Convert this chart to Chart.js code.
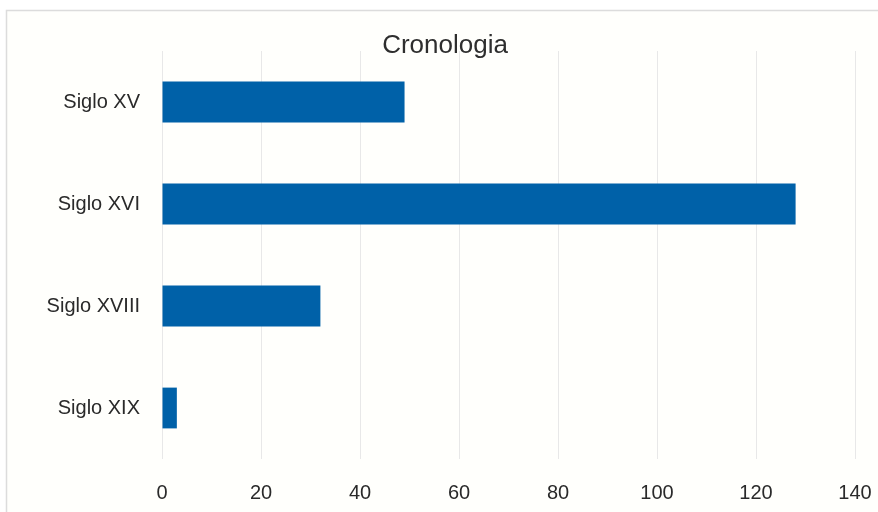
<!DOCTYPE html>
<html>
<head>
<meta charset="utf-8">
<script src="https://cdn.jsdelivr.net/npm/chart.js@4/dist/chart.umd.min.js"></script>
<style>
  html, body { margin: 0; padding: 0; background: #ffffff; }
  #wrap { width: 878px; height: 512px; position: relative; }
</style>
</head>
<body>
<div id="wrap"><canvas id="c" width="878" height="512"></canvas></div>
<script>
const categories = ["Siglo XV", "Siglo XVI", "Siglo XVIII", "Siglo XIX"];
const values = [49, 128, 32, 3];
const chartTitle = "Cronologia";
const xMax = 140;
const xStep = 20;

const frame = {
  id: 'frame',
  beforeDraw(chart) {
    const ctx = chart.ctx;
    ctx.save();
    ctx.fillStyle = '#fffffc';
    ctx.fillRect(6, 10, chart.width - 6, chart.height - 10);
    ctx.strokeStyle = '#dcdcdc';
    ctx.lineWidth = 1.5;
    ctx.beginPath();
    ctx.moveTo(6.5, chart.height);
    ctx.lineTo(6.5, 10.5);
    ctx.lineTo(chart.width, 10.5);
    ctx.stroke();
    ctx.restore();
  }
};

const FONT = 'Liberation Sans, Arial, sans-serif';

new Chart(document.getElementById('c'), {
  type: 'bar',
  data: {
    labels: categories,
    datasets: [{
      data: values,
      backgroundColor: '#0061a8',
      borderWidth: 0,
      categoryPercentage: 1,
      barPercentage: 0.4
    }]
  },
  plugins: [frame],
  options: {
    indexAxis: 'y',
    responsive: false,
    animation: false,
    layout: { padding: { left: 12, right: 0, top: 0, bottom: 0 } },
    plugins: {
      legend: { display: false },
      tooltip: { enabled: false },
      title: {
        display: true,
        text: chartTitle,
        color: '#2e2e2e',
        font: { family: FONT, size: 26, weight: 'normal', lineHeight: 1 },
        padding: { top: 33, bottom: -8 }
      }
    },
    scales: {
      x: {
        min: 0,
        max: xMax,
        afterFit(scale) { scale.height = 53; scale.paddingLeft = 0; scale.paddingRight = 23; },
        ticks: {
          stepSize: xStep,
          color: '#2a2a2a',
          padding: 22,
          maxRotation: 0,
          font: { family: FONT, size: 20 }
        },
        grid: { color: '#e8e8e8', lineWidth: 1, drawTicks: false },
        border: { display: false }
      },
      y: {
        afterFit(scale) { scale.width = 150; scale.paddingTop = 0; scale.paddingBottom = 0; },
        ticks: {
          color: '#2a2a2a',
          padding: 22,
          font: { family: FONT, size: 20 }
        },
        grid: { display: false, drawTicks: false },
        border: { display: false }
      }
    }
  }
});
</script>
</body>
</html>
